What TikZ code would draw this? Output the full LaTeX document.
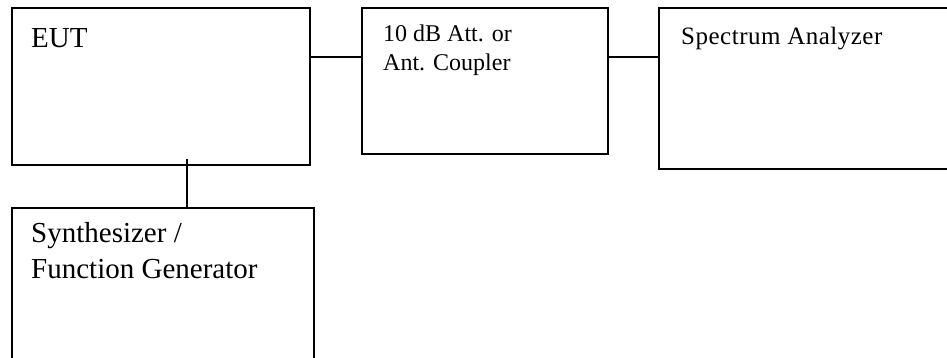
\documentclass[tikz,border=0pt]{standalone}
\usepackage{fontspec}
\setmainfont{Liberation Serif}
\newfontfamily\saFont[LetterSpace=2]{Liberation Serif}
\usetikzlibrary{calc}
\begin{document}
\begin{tikzpicture}[x=1pt,y=-1pt,
  box/.style={draw,line width=2pt,rectangle,anchor=north west,inner sep=0pt},
  wire/.style={line width=2pt},
  lbl/.style={anchor=base west,inner sep=0pt},
  bigfont/.style={font=\fontsize{29}{36}\selectfont},
  midfont/.style={font=\fontsize{24}{29}\selectfont},
  safont/.style={font=\saFont\fontsize{25}{30}\selectfont}]
\useasboundingbox (0,0) rectangle (947,358);
\clip (0,0) rectangle (947,358);
% boxes
\node[box,minimum width=298pt,minimum height=157pt] (eut) at (11,7) {};
\node[box,minimum width=246pt,minimum height=146pt] (att) at (361,7) {};
\node[box,minimum width=310pt,minimum height=161pt] (sa) at (658,7) {};
\node[box,minimum width=302pt,minimum height=170pt] (syn) at (11,207) {};
% labels
\node[lbl,bigfont] (eutT) at (31,48) {EUT};
\node[lbl,midfont] (attT1) at (383,42) {10 dB Att. or};
\node[lbl,midfont] (attT2) at (383,71) {Ant. Coupler};
\node[lbl,safont] (saT) at (681,45) {Spectrum Analyzer};
\node[lbl,bigfont] (synT1) at (31,242) {Synthesizer /};
\node[lbl,bigfont] (synT2) at (31,278) {Function Generator};
% connectors
\draw[wire] ($(eut.north east)+(0,50)$) -- ($(att.north west)+(0,50)$);
\draw[wire] ($(att.north east)+(0,50)$) -- ($(sa.north west)+(0,50)$);
\draw[wire] ($(eut.south west)+(176,-7)$) -- ($(syn.north west)+(176,0)$);
\end{tikzpicture}
\end{document}
